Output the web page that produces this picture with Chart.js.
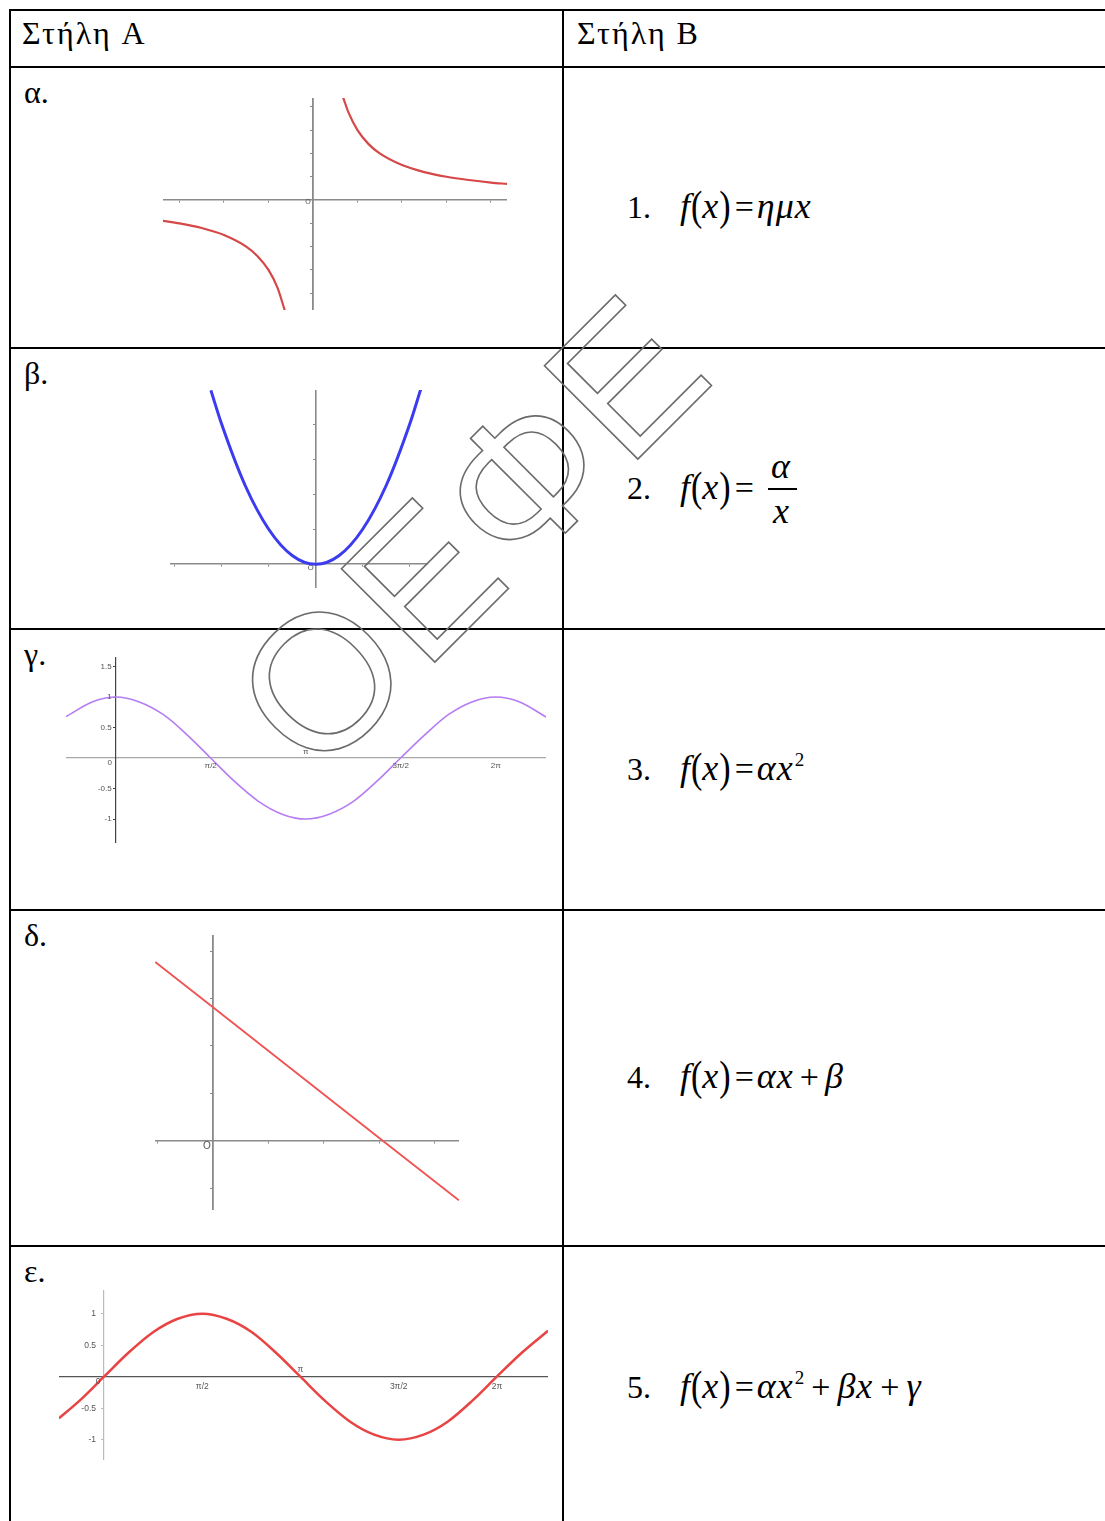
<!DOCTYPE html>
<html lang="el">
<head>
<meta charset="utf-8">
<title>Στήλη A – Στήλη B</title>
<script src="https://cdn.jsdelivr.net/npm/chart.js@4.4.1/dist/chart.umd.min.js"></script>
<style>
  html, body { margin: 0; padding: 0; background: #fff; }
  body { position: relative; width: 1105px; height: 1521px; overflow: hidden; font-family: "Liberation Serif", "Times New Roman", serif; color: #000; }
  .hl { position: absolute; left: 9px; width: 1096px; height: 2px; background: #000; }
  .vl { position: absolute; top: 9px; height: 1512px; width: 2px; background: #000; }
  .t { position: absolute; font-size: 32px; line-height: 32px; white-space: nowrap; }
  .head { letter-spacing: 2px; }
  .m i { font-style: italic; font-size: 36px; letter-spacing: 1px; }
  .gap { display: inline-block; width: 29px; }
  .par { display: inline-block; font-size: 34px; transform: scaleY(1.22); }
  .eq { font-size: 34px; margin: 0 3px 0 4px; }
  .sup { position: relative; top: -14px; font-size: 19px; margin-left: 1px; }
  .plus { font-size: 34px; margin: 0 7px; }
  canvas { position: absolute; }
  svg { position: absolute; left: 0; top: 0; pointer-events: none; }
</style>
</head>
<body>

<!-- table lines -->
<div class="hl" style="top:9px"></div>
<div class="hl" style="top:66px"></div>
<div class="hl" style="top:347px"></div>
<div class="hl" style="top:628px"></div>
<div class="hl" style="top:909px"></div>
<div class="hl" style="top:1245px"></div>
<div class="vl" style="left:9px"></div>
<div class="vl" style="left:562px"></div>

<!-- headers and row labels -->
<div class="t head" style="left:22px;top:17px">Στήλη A</div>
<div class="t head" style="left:577px;top:17px">Στήλη B</div>
<div class="t" style="left:24px;top:76px">α.</div>
<div class="t" style="left:24px;top:357px">β.</div>
<div class="t" style="left:24px;top:638px">γ.</div>
<div class="t" style="left:24px;top:919px">δ.</div>
<div class="t" style="left:24px;top:1255px">ε.</div>

<!-- column B -->
<div class="t m" style="left:627px;top:190px">1.<span class="gap"></span><i>f</i><span class="par">(</span><i>x</i><span class="par">)</span><span class="eq">=</span><i>ημx</i></div>
<div class="t m" style="left:627px;top:471px">2.<span class="gap"></span><i>f</i><span class="par">(</span><i>x</i><span class="par">)</span><span class="eq">=</span></div>
<div class="t m" style="left:771px;top:450px"><i>α</i></div>
<div style="position:absolute;left:768px;top:488px;width:29px;height:2px;background:#000"></div>
<div class="t m" style="left:773px;top:495px"><i>x</i></div>
<div class="t m" style="left:627px;top:752px">3.<span class="gap"></span><i>f</i><span class="par">(</span><i>x</i><span class="par">)</span><span class="eq">=</span><i>αx</i><span class="sup">2</span></div>
<div class="t m" style="left:627px;top:1060px">4.<span class="gap"></span><i>f</i><span class="par">(</span><i>x</i><span class="par">)</span><span class="eq">=</span><i>αx</i><span class="plus" style="margin:0 6px">+</span><i>β</i></div>
<div class="t m" style="left:627px;top:1370px">5.<span class="gap"></span><i>f</i><span class="par">(</span><i>x</i><span class="par">)</span><span class="eq">=</span><i>αx</i><span class="sup">2</span><span class="plus">+</span><i>βx</i><span class="plus">+</span><i>γ</i></div>

<!-- column A graphs -->
<canvas id="gAlpha" width="344" height="212" style="left:163px;top:98px"></canvas>
<canvas id="gBeta" width="258" height="198" style="left:170px;top:390px"></canvas>
<canvas id="gGamma" width="480" height="186" style="left:66px;top:657px"></canvas>
<canvas id="gDelta" width="304" height="275" style="left:155px;top:935px"></canvas>
<canvas id="gEpsilon" width="489" height="170" style="left:59px;top:1290px"></canvas>

<!-- watermark -->
<svg width="1105" height="1521">
  <text transform="translate(316,781) rotate(-45)" font-family="Liberation Sans, Arial, sans-serif" font-size="192" letter-spacing="3" fill="none" stroke="#6b6b6b" stroke-width="1.6">ΟΕΦΕ</text>
</svg>

<script>
const PI = Math.PI;

// α. hyperbola, two branches
const hypRightX = [0.67, 0.8, 1, 1.25, 1.5, 2, 2.5, 3, 3.5, 4, 4.37];
const hypRightY = [4.45, 3.75, 3, 2.4, 2, 1.5, 1.2, 1, 0.86, 0.75, 0.69];
const hypLeftX = [-3.38, -3, -2.5, -2, -1.5, -1.25, -1, -0.8, -0.63];
const hypLeftY = [-0.89, -1, -1.2, -1.5, -2, -2.4, -3, -3.75, -4.76];
const hypTicksX = [-3, -2, -1, 1, 2, 3, 4];
const hypTicksY = [-4, -3, -2, -1, 1, 2, 3, 4];

// β. parabola
const parX = [-2.23, -2, -1.5, -1, -0.5, 0, 0.5, 1, 1.5, 2, 2.24];
const parY = [4.97, 4, 2.25, 1, 0.25, 0, 0.25, 1, 2.25, 4, 5.02];
const parTicksX = [-3, -2, -1, 1, 2];
const parTicksY = [1, 2, 3, 4];

// γ. cosine
const cosX = [-0.82, -0.39, 0, 0.39, 0.79, 1.18, 1.57, 1.96, 2.36, 2.75, 3.14, 3.53, 3.93, 4.32, 4.71, 5.11, 5.5, 5.89, 6.28, 6.68, 7.12];
const cosY = [0.68, 0.92, 1, 0.92, 0.71, 0.38, 0, -0.38, -0.71, -0.92, -1, -0.92, -0.71, -0.38, 0, 0.38, 0.71, 0.92, 1, 0.92, 0.67];
const cosTicksX = [PI / 2, PI, 3 * PI / 2, 2 * PI];
const cosTickLabelsX = ["π/2", "π", "3π/2", "2π"];
const cosTicksY = [1.5, 1, 0.5, -0.5, -1];
const cosTickLabelsY = ["1.5", "1", "0.5", "-0.5", "-1"];

// δ. straight line
const lineX = [-1.05, 0, 3.07, 4.44];
const lineY = [3.77, 2.81, 0, -1.25];
const lineTicksX = [-1, 1, 2, 3, 4];
const lineTicksY = [-1, 1, 2, 3, 4];

// ε. sine
const sinX = [-0.72, -0.39, 0, 0.39, 0.79, 1.18, 1.57, 1.96, 2.36, 2.75, 3.14, 3.53, 3.93, 4.32, 4.71, 5.11, 5.5, 5.89, 6.28, 6.68, 7.1];
const sinY = [-0.66, -0.38, 0, 0.38, 0.71, 0.92, 1, 0.92, 0.71, 0.38, 0, -0.38, -0.71, -0.92, -1, -0.92, -0.71, -0.38, 0, 0.38, 0.73];
const sinTicksX = [PI / 2, PI, 3 * PI / 2, 2 * PI];
const sinTickLabelsX = ["π/2", "π", "3π/2", "2π"];
const sinTicksY = [1, 0.5, -0.5, -1];
const sinTickLabelsY = ["1", "0.5", "-0.5", "-1"];

function axis(min, max, ticks, position, look) {
  return {
    type: "linear",
    min: min,
    max: max,
    position: position,
    afterBuildTicks: scale => { scale.ticks = ticks.map(v => ({ value: v })); },
    ticks: { display: false },
    grid: { drawOnChartArea: false, drawTicks: look.tick > 0, tickLength: look.tick, tickColor: look.color, tickWidth: 1 },
    border: { display: true, color: look.color, width: look.width }
  };
}

// tick texts and origin mark, placed through the chart's own scales
function axisText(cfg) {
  return {
    id: "axisText",
    afterDraw(chart) {
      const { ctx, scales: { x, y } } = chart;
      const ox = x.getPixelForValue(0);
      const oy = y.getPixelForValue(0);
      ctx.save();
      ctx.fillStyle = "#555";
      ctx.textAlign = "center";
      ctx.textBaseline = "middle";
      if (cfg.origin) {
        ctx.font = cfg.origin.font;
        ctx.fillText(cfg.origin.text, ox + cfg.origin.dx, oy + cfg.origin.dy);
      }
      ctx.font = cfg.font || "8px 'Liberation Sans'";
      if (cfg.xLabels) {
        x.ticks.forEach((t, i) => {
          const text = cfg.xLabels[i];
          const up = cfg.xAbove.includes(text);
          ctx.fillText(text, x.getPixelForValue(t.value), up ? oy - cfg.aboveGap : oy + cfg.belowGap);
        });
      }
      if (cfg.yLabels) {
        ctx.textAlign = "right";
        y.ticks.forEach((t, i) => {
          ctx.fillText(cfg.yLabels[i], ox - cfg.yGap, y.getPixelForValue(t.value));
        });
      }
      ctx.restore();
    }
  };
}

function graph(id, cfg) {
  return new Chart(document.getElementById(id), {
    type: "scatter",
    data: {
      datasets: cfg.series.map(s => ({
        data: s.x.map((v, i) => ({ x: v, y: s.y[i] })),
        showLine: true,
        pointRadius: 0,
        borderColor: s.color,
        borderWidth: s.width,
        cubicInterpolationMode: s.smooth ? "monotone" : "default",
        tension: 0,
        fill: false
      }))
    },
    options: {
      responsive: false,
      animation: false,
      events: [],
      layout: { padding: 0 },
      plugins: { legend: { display: false }, tooltip: { enabled: false } },
      scales: {
        x: axis(cfg.xMin, cfg.xMax, cfg.xTicks, { y: 0 }, cfg.xLook),
        y: axis(cfg.yMin, cfg.yMax, cfg.yTicks, { x: 0 }, cfg.yLook)
      }
    },
    plugins: [axisText(cfg.text)]
  });
}

graph("gAlpha", {
  xMin: -3.37, xMax: 4.36, yMin: -4.72, yMax: 4.38,
  xTicks: hypTicksX, yTicks: hypTicksY,
  xLook: { color: "#8a8a8a", width: 1.6, tick: 2 },
  yLook: { color: "#8a8a8a", width: 1.8, tick: 2 },
  series: [
    { x: hypLeftX, y: hypLeftY, color: "#d64848", width: 2.2, smooth: true },
    { x: hypRightX, y: hypRightY, color: "#d64848", width: 2.2, smooth: true }
  ],
  text: { origin: { text: "O", font: "7px 'Liberation Sans'", dx: -5, dy: 2.5 } }
});

graph("gBeta", {
  xMin: -3.1, xMax: 2.39, yMin: -0.68, yMax: 4.98,
  xTicks: parTicksX, yTicks: parTicksY,
  xLook: { color: "#8a8a8a", width: 1.6, tick: 2 },
  yLook: { color: "#8a8a8a", width: 1.6, tick: 2 },
  series: [{ x: parX, y: parY, color: "#3b3bf0", width: 3, smooth: true }],
  text: { origin: { text: "O", font: "8px 'Liberation Sans'", dx: -5, dy: 4 } }
});

graph("gGamma", {
  xMin: -0.822, xMax: 7.115, yMin: -1.393, yMax: 1.656,
  xTicks: cosTicksX, yTicks: cosTicksY,
  xLook: { color: "#a8a8a8", width: 1.2, tick: 0 },
  yLook: { color: "#444", width: 1.2, tick: 2 },
  series: [{ x: cosX, y: cosY, color: "#b67cf2", width: 1.6, smooth: true }],
  text: {
    font: "8px 'Liberation Sans'",
    xLabels: cosTickLabelsX, xAbove: ["π"], aboveGap: 6.5, belowGap: 8,
    yLabels: cosTickLabelsY, yGap: 4,
    origin: { text: "0", font: "8px 'Liberation Sans'", dx: -6, dy: 5 }
  }
});

graph("gDelta", {
  xMin: -1.054, xMax: 4.443, yMin: -1.453, yMax: 4.337,
  xTicks: lineTicksX, yTicks: lineTicksY,
  xLook: { color: "#8a8a8a", width: 1.6, tick: 2 },
  yLook: { color: "#8a8a8a", width: 1.8, tick: 2 },
  series: [{ x: lineX, y: lineY, color: "#f05252", width: 1.8, smooth: false }],
  text: { origin: { text: "O", font: "10px 'Liberation Sans'", dx: -6.5, dy: 5.5 } }
});

graph("gEpsilon", {
  xMin: -0.7195, xMax: 7.099, yMin: -1.322, yMax: 1.376,
  xTicks: sinTicksX, yTicks: sinTicksY,
  xLook: { color: "#555", width: 1.3, tick: 0 },
  yLook: { color: "#bbb", width: 1.2, tick: 2 },
  series: [{ x: sinX, y: sinY, color: "#e84444", width: 2.5, smooth: true }],
  text: {
    font: "8.5px 'Liberation Sans'",
    xLabels: sinTickLabelsX, xAbove: ["π"], aboveGap: 7.5, belowGap: 9.5,
    yLabels: sinTickLabelsY, yGap: 8,
    origin: { text: "0", font: "8.5px 'Liberation Sans'", dx: -6, dy: 5 }
  }
});
</script>
</body>
</html>
